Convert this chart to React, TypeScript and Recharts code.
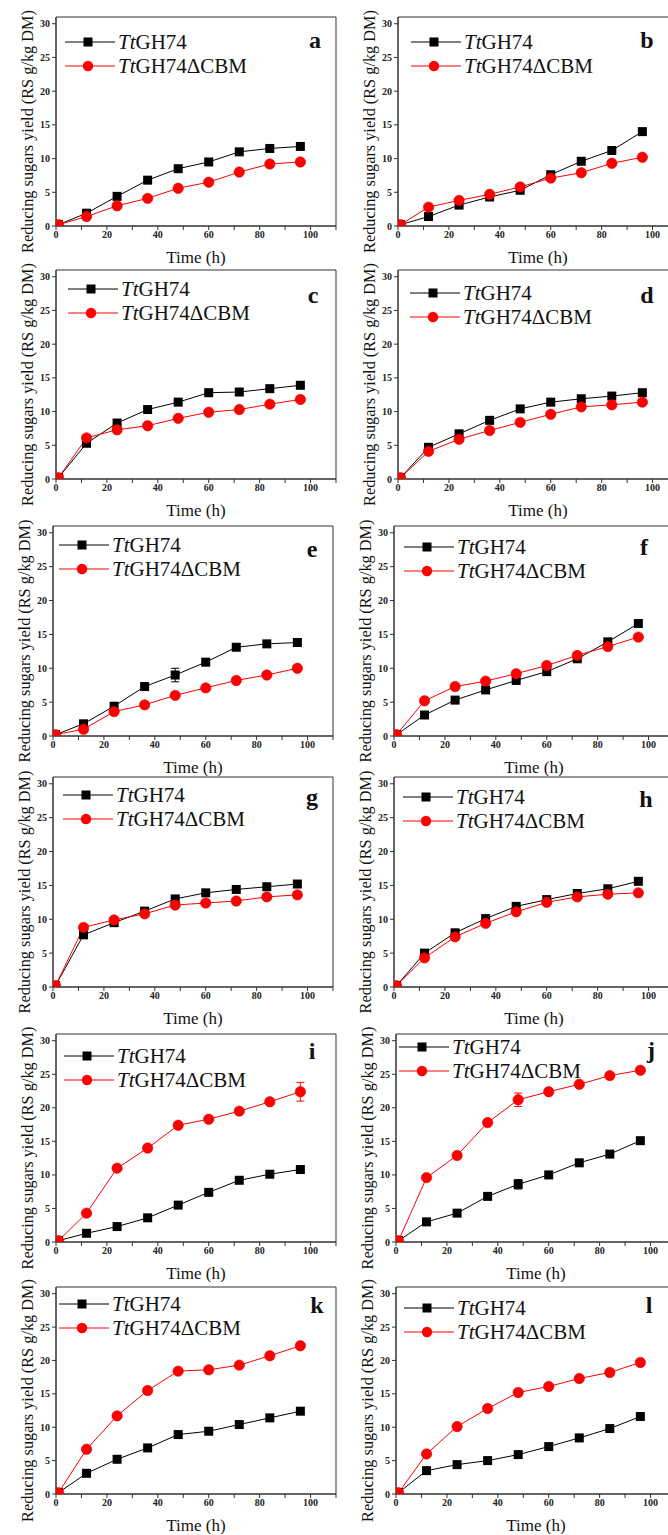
import React from "react";
import { ComposedChart, Line, XAxis, YAxis, ReferenceArea, ErrorBar, Legend } from "recharts";

// sampling times (h)
const times = [1, 12, 24, 36, 48, 60, 72, 84, 96];
const seriesPrefix = "Tt";
const seriesNames = ["GH74", "GH74\u0394CBM"];
const panelLetters = ["a", "b", "c", "d", "e", "f", "g", "h", "i", "j", "k", "l"];
const xTicks = [0, 10, 20, 30, 40, 50, 60, 70, 80, 90, 100, 110];
const yTicks = [0, 5, 10, 15, 20, 25, 30];

// reducing sugars yield, TtGH74 (black) and TtGH74ΔCBM (red)
const aGH74 = [0.2, 1.9, 4.4, 6.8, 8.5, 9.5, 11.0, 11.5, 11.8];
const aCBM = [0.2, 1.4, 3.0, 4.1, 5.6, 6.5, 8.0, 9.2, 9.5];
const bGH74 = [0.2, 1.4, 3.1, 4.3, 5.3, 7.6, 9.6, 11.2, 14.0];
const bCBM = [0.2, 2.8, 3.8, 4.7, 5.8, 7.1, 7.9, 9.3, 10.2];
const cGH74 = [0.2, 5.3, 8.3, 10.3, 11.4, 12.8, 12.9, 13.4, 13.9];
const cCBM = [0.2, 6.1, 7.3, 7.9, 9.0, 9.9, 10.3, 11.1, 11.8];
const dGH74 = [0.2, 4.7, 6.7, 8.7, 10.4, 11.4, 11.9, 12.3, 12.8];
const dCBM = [0.2, 4.1, 5.9, 7.2, 8.4, 9.6, 10.7, 11.0, 11.4];
const eGH74 = [0.2, 1.8, 4.4, 7.3, 9.0, 10.9, 13.1, 13.6, 13.8];
const eCBM = [0.2, 1.0, 3.6, 4.6, 6.0, 7.1, 8.2, 9.0, 10.0];
const fGH74 = [0.2, 3.1, 5.3, 6.8, 8.2, 9.5, 11.4, 13.9, 16.6];
const fCBM = [0.2, 5.2, 7.3, 8.1, 9.2, 10.4, 11.9, 13.2, 14.6];
const gGH74 = [0.2, 7.7, 9.5, 11.2, 13.0, 13.9, 14.4, 14.8, 15.2];
const gCBM = [0.2, 8.8, 9.9, 10.8, 12.1, 12.4, 12.7, 13.3, 13.6];
const hGH74 = [0.2, 5.0, 8.0, 10.1, 11.9, 12.9, 13.8, 14.5, 15.6];
const hCBM = [0.2, 4.3, 7.4, 9.4, 11.1, 12.5, 13.3, 13.7, 13.9];
const iGH74 = [0.2, 1.3, 2.3, 3.6, 5.5, 7.4, 9.2, 10.1, 10.8];
const iCBM = [0.2, 4.3, 11.0, 14.0, 17.4, 18.3, 19.5, 20.9, 22.4];
const jGH74 = [0.2, 3.0, 4.3, 6.8, 8.6, 10.0, 11.8, 13.1, 15.1];
const jCBM = [0.2, 9.6, 12.9, 17.8, 21.2, 22.4, 23.5, 24.8, 25.6];
const kGH74 = [0.2, 3.1, 5.2, 6.9, 8.9, 9.4, 10.4, 11.4, 12.4];
const kCBM = [0.2, 6.7, 11.7, 15.5, 18.4, 18.6, 19.3, 20.7, 22.2];
const lGH74 = [0.2, 3.5, 4.4, 5.0, 5.9, 7.1, 8.4, 9.8, 11.6];
const lCBM = [0.2, 6.0, 10.1, 12.8, 15.2, 16.1, 17.3, 18.2, 19.7];

// visible error bars
const eGH74Err = [0, 0, 0, 0, 1.0, 0, 0.4, 0, 0];
const iCBMErr = [0, 0, 0, 0, 0, 0, 0, 0, 1.4];
const jGH74Err = [0, 0, 0, 0, 0.7, 0, 0, 0, 0];
const jCBMErr = [0, 0, 0, 0, 1.0, 0, 0, 0, 0];

const ghSeries = [aGH74, bGH74, cGH74, dGH74, eGH74, fGH74, gGH74, hGH74, iGH74, jGH74, kGH74, lGH74];
const cbmSeries = [aCBM, bCBM, cCBM, dCBM, eCBM, fCBM, gCBM, hCBM, iCBM, jCBM, kCBM, lCBM];
const ghErrs: (number[] | null)[] = [null, null, null, null, eGH74Err, null, null, null, null, jGH74Err, null, null];
const cbmErrs: (number[] | null)[] = [null, null, null, null, null, null, null, null, iCBMErr, jCBMErr, null, null];

// layout of the 6x2 grid
const rowTops = [17, 270, 526, 777, 1034, 1287];
const rowHeights = [209, 209, 210, 210, 208, 207];
const boxLefts = [56, 64, 56, 64, 53, 60, 53, 60, 56, 62, 56, 62];
const legendDx = [9, 13, 12, 12, 6, 10, 10, 9, 8, 3, 3, 8];
const legendDy = [25, 25, 19, 23, 19, 21, 18, 20, 22, 13, 17, 21];
const letterXs = [315, 647, 313, 647, 312, 644, 312, 646, 312, 651, 317, 649];
const letterYs = [48, 48, 303, 303, 557, 555, 805, 807, 1059, 1058, 1313, 1313];

const PLOT_W = 280;
const TOP_PAD = 40;
const XAXIS_H = 40;
const serif = "'Liberation Serif', 'Times New Roman', serif";
const RED = "#ff0000";

const tickStyle = { fontFamily: serif, fontSize: 10, fontWeight: 700, fill: "#222" };

const SquareDot = (props: any) => {
  const { cx, cy, index } = props;
  if (cx == null || cy == null) return <g key={`s${index}`} />;
  return <rect key={`s${index}`} x={cx - 4.5} y={cy - 4.5} width={9} height={9} fill="#000" />;
};

const CircleDot = (props: any) => {
  const { cx, cy, index } = props;
  if (cx == null || cy == null) return <g key={`c${index}`} />;
  return <circle key={`c${index}`} cx={cx} cy={cy} r={5.2} fill={RED} stroke="#e00000" strokeWidth={0.6} />;
};

function LegendBox() {
  const row = (i: number) => (
    <div key={i} style={{ display: "flex", alignItems: "center", height: 24 }}>
      <svg width={50} height={24}>
        <line x1={0} x2={50} y1={12} y2={12} stroke={i === 0 ? "#000" : RED} strokeWidth={1} />
        {i === 0 ? (
          <rect x={18.5} y={7.5} width={9} height={9} fill="#000" />
        ) : (
          <circle cx={23} cy={12} r={5.2} fill={RED} />
        )}
      </svg>
      <span style={{ marginLeft: 3, fontFamily: serif, fontSize: 21, color: "#111", whiteSpace: "nowrap", lineHeight: "24px" }}>
        <i>{seriesPrefix}</i>
        {seriesNames[i]}
      </span>
    </div>
  );
  return <div>{[0, 1].map(row)}</div>;
}

function Panel({ idx }: { idx: number }) {
  const col = idx % 2;
  const row = Math.floor(idx / 2);
  const boxLeft = boxLefts[idx];
  const plotH = rowHeights[row];
  const gh = ghSeries[idx];
  const cbm = cbmSeries[idx];
  const ghErr = ghErrs[idx];
  const cbmErr = cbmErrs[idx];
  const data = times.map((t, i) => ({
    t,
    gh: gh[i],
    cbm: cbm[i],
    ghErr: ghErr ? ghErr[i] : 0,
    cbmErr: cbmErr ? cbmErr[i] : 0,
  }));
  const width = boxLeft + PLOT_W + 2;
  const height = TOP_PAD + plotH + XAXIS_H;

  const yLabel = (p: any) => {
    const vb = p.viewBox || {};
    const x = boxLeft - 29;
    const y = (vb.y ?? TOP_PAD) + (vb.height ?? plotH) / 2 + 10;
    return (
      <text x={x} y={y} transform={`rotate(-90, ${x}, ${y})`} textAnchor="middle" dominantBaseline="central"
        style={{ fontFamily: serif, fontSize: 16.3, fill: "#111" }}>
        Reducing sugars yield (RS g/kg DM)
      </text>
    );
  };
  const xLabel = (p: any) => {
    const vb = p.viewBox || {};
    const x = (vb.x ?? boxLeft) + (vb.width ?? PLOT_W) / 2;
    const y = TOP_PAD + plotH + 37;
    return (
      <text x={x} y={y} textAnchor="middle" style={{ fontFamily: serif, fontSize: 17, fill: "#111" }}>
        Time (h)
      </text>
    );
  };

  return (
    <div style={{ position: "absolute", left: col * 334, top: rowTops[row] - TOP_PAD, width, height }}>
      <ComposedChart width={width} height={height} data={data} margin={{ top: TOP_PAD, right: 2, left: 0, bottom: 0 }}>
        <XAxis
          type="number"
          dataKey="t"
          domain={[0, 110]}
          ticks={xTicks}
          interval={0}
          tickFormatter={(v: number) => (v % 20 === 0 && v <= 100 ? String(v) : "")}
          tick={tickStyle}
          tickSize={4}
          tickMargin={1}
          height={XAXIS_H}
          stroke="#333"
          allowDataOverflow
          label={xLabel}
        />
        <YAxis
          type="number"
          domain={[0, 31]}
          ticks={yTicks}
          interval={0}
          tick={tickStyle}
          tickSize={4}
          tickMargin={2}
          width={boxLeft}
          stroke="#333"
          allowDataOverflow
          label={yLabel}
        />
        <ReferenceArea x1={0} x2={110} y1={0} y2={31} fill="none" stroke="#333" strokeWidth={1} ifOverflow="visible" />
        <Legend
          layout="vertical"
          align="center"
          verticalAlign="middle"
          wrapperStyle={{ left: boxLeft + legendDx[idx], top: TOP_PAD + legendDy[idx] - 12, width: "auto" }}
          content={() => <LegendBox />}
        />
        <Line
          dataKey="gh"
          name={seriesPrefix + seriesNames[0]}
          stroke="#000"
          strokeWidth={1}
          dot={SquareDot}
          activeDot={false}
          isAnimationActive={false}
        >
          {ghErr && <ErrorBar dataKey="ghErr" direction="y" width={4} stroke="#000" strokeWidth={1} />}
        </Line>
        <Line
          dataKey="cbm"
          name={seriesPrefix + seriesNames[1]}
          stroke={RED}
          strokeWidth={1}
          dot={CircleDot}
          activeDot={false}
          isAnimationActive={false}
        >
          {cbmErr && <ErrorBar dataKey="cbmErr" direction="y" width={4} stroke={RED} strokeWidth={1} />}
        </Line>
      </ComposedChart>
    </div>
  );
}

export default function App() {
  return (
    <div style={{ position: "absolute", left: 0, top: 0, width: 668, height: 1535, overflow: "hidden", background: "#fff" }}>
      {panelLetters.map((_, idx) => (
        <Panel key={idx} idx={idx} />
      ))}
      <svg width={668} height={1535} style={{ position: "absolute", left: 0, top: 0, pointerEvents: "none" }}>
        {panelLetters.map((ch, idx) => (
          <text key={ch} x={letterXs[idx]} y={letterYs[idx]} textAnchor="middle"
            style={{ fontFamily: serif, fontSize: 24, fontWeight: 700, fill: "#111" }}>
            {ch}
          </text>
        ))}
      </svg>
    </div>
  );
}
